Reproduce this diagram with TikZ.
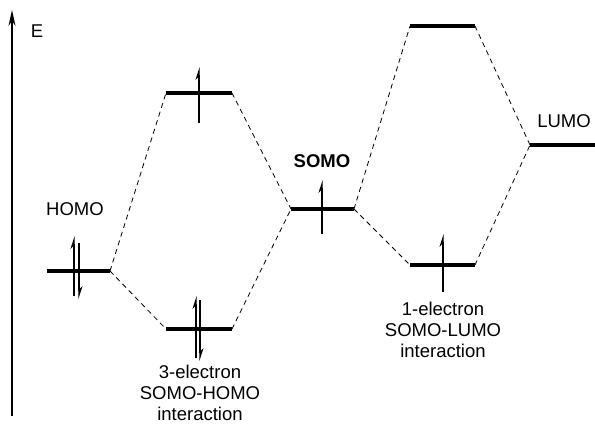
\documentclass[tikz,border=0pt]{standalone}
\usepackage{fontspec}
\setmainfont{Liberation Sans}
\usetikzlibrary{arrows.meta}
\tikzset{
  level/.style={line width=3.8pt},
  conn/.style={line width=0.8pt, dash pattern=on 5pt off 4pt},
  elec/.style={line width=1.2pt, -{Stealth[harpoon,length=11pt,width=7pt]}},
  lab/.style={font=\fontsize{18.5}{21}\selectfont, align=center, inner sep=0pt},
}
\begin{document}
\begin{tikzpicture}[x=1pt,y=-1pt]
\useasboundingbox (0,0) rectangle (595,424);
% axis
\coordinate (ax0) at (12,416);
\coordinate (ax1) at (12,10);
\draw[line width=1.6pt, -{Stealth[length=16pt,width=7pt]}] (ax0) -- (ax1);
\node[lab] (E) at (37,31) {E};
% level endpoints
\coordinate (h1) at (47,271);   \coordinate (h2) at (110,271);
\coordinate (a1) at (166,93);   \coordinate (a2) at (232,93);
\coordinate (b1) at (166,329);  \coordinate (b2) at (232,329);
\coordinate (s1) at (291,209);  \coordinate (s2) at (354,209);
\coordinate (c1) at (410,26);   \coordinate (c2) at (475,26);
\coordinate (d1) at (410,265);  \coordinate (d2) at (475,265);
\coordinate (l1) at (530,145);  \coordinate (l2) at (595,145);
% connectors
\draw[conn] (h2) -- (a1);
\draw[conn] (h2) -- (b1);
\draw[conn] (a2) -- (s1);
\draw[conn] (b2) -- (s1);
\draw[conn] (s2) -- (c1);
\draw[conn] (s2) -- (d1);
\draw[conn] (c2) -- (l1);
\draw[conn] (d2) -- (l1);
% levels
\foreach \p/\q in {h1/h2,a1/a2,b1/b2,s1/s2,c1/c2,d1/d2,l1/l2}
  \draw[level] (\p) -- (\q);
% electrons
\coordinate (e1s) at (74,296);  \coordinate (e1e) at (74,236);
\coordinate (e2s) at (79,243);  \coordinate (e2e) at (79,299);
\draw[elec] (e1s) -- (e1e);
\draw[elec] (e2s) -- (e2e);
\coordinate (e3s) at (199,123); \coordinate (e3e) at (199,67);
\draw[elec] (e3s) -- (e3e);
\coordinate (e4s) at (196,358); \coordinate (e4e) at (196,296);
\coordinate (e5s) at (200,300); \coordinate (e5e) at (200,361);
\draw[elec] (e4s) -- (e4e);
\draw[elec] (e5s) -- (e5e);
\coordinate (e6s) at (322,234); \coordinate (e6e) at (322,180);
\draw[elec] (e6s) -- (e6e);
\coordinate (e7s) at (443,292); \coordinate (e7e) at (443,234);
\draw[elec] (e7s) -- (e7e);
% labels
\node[lab] (homo) at (75,209) {HOMO};
\node[lab, font=\fontsize{18.5}{21}\selectfont\bfseries] (somo) at (322,161) {SOMO};
\node[lab] (lumo) at (564,121) {LUMO};
\node[lab] (int3) at (200,393) {3-electron\\SOMO-HOMO\\interaction};
\node[lab] (int1) at (443,330) {1-electron\\SOMO-LUMO\\interaction};
\end{tikzpicture}
\end{document}
